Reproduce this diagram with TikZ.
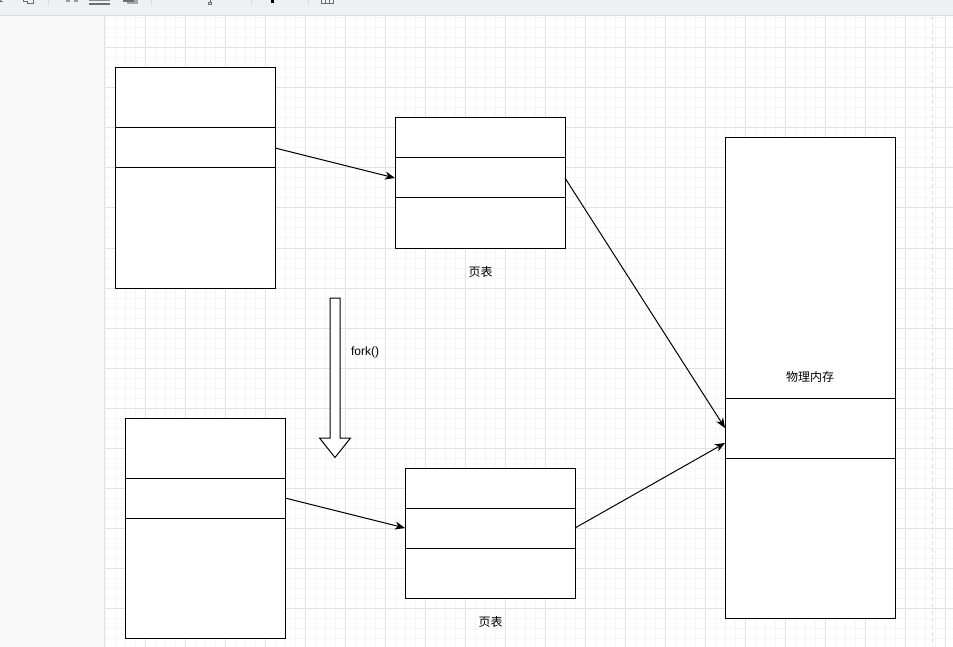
\documentclass[tikz,border=0pt]{standalone}
\usepackage{fontspec}
\setmainfont{Liberation Sans}
\newfontfamily\cjk{Noto Sans CJK SC}
\usetikzlibrary{arrows.meta}
\definecolor{toolbg}{RGB}{238,240,242}
\definecolor{toolline}{RGB}{216,219,223}
\definecolor{panelbg}{RGB}{249,249,249}
\definecolor{gridminor}{RGB}{245,245,245}
\definecolor{gridmajor}{RGB}{226,226,226}
\definecolor{icongray}{RGB}{110,110,110}
\tikzset{
  cell/.style={draw=black, line width=1pt, fill=white, inner sep=0pt, outer sep=0pt, anchor=north west},
  conn/.style={line width=1pt, -{Stealth[length=10pt,width=8pt,inset=3pt]}},
  lbl/.style={inner sep=0pt, font=\fontsize{12}{14}\selectfont},
}
\begin{document}
\begin{tikzpicture}[x=1pt,y=-1pt]
\useasboundingbox (0,0) rectangle (953,647);
% canvas background and grid
\fill[white] (105,15) rectangle (953,647);
\begin{scope}
\clip (105,15) rectangle (953,647);
\foreach \x in {105,115,...,955} \draw[gridminor, line width=1pt] (\x,15) -- (\x,647);
\foreach \y in {18,28,...,648} \draw[gridminor, line width=1pt] (105,\y) -- (953,\y);
\foreach \x in {145,185,...,955} \draw[gridmajor, line width=1pt] (\x,15) -- (\x,647);
\foreach \y in {48,88,...,648} \draw[gridmajor, line width=1pt] (105,\y) -- (953,\y);
\end{scope}
\draw[gridmajor!120, line width=1pt, dash pattern=on 4pt off 3pt] (932,16) -- (932,647);
% left panel
\fill[panelbg] (0,15) rectangle (104,647);
\draw[gridmajor, line width=1pt] (104.5,15) -- (104.5,647);
% toolbar
\fill[toolbg] (0,0) rectangle (953,15);
\draw[toolline, line width=1pt] (0,15.5) -- (953,15.5);
\foreach \x in {48,151,251,308} \draw[toolline, line width=1pt] (\x,0) -- (\x,6);
\draw[icongray, line width=1pt] (0,0) -- (0,2) -- (3,2);
\draw[icongray, line width=1pt] (23,0) -- (23,2) -- (27,2) -- (27,4) -- (33,4) -- (33,0);
\fill[icongray!70] (66,0) rectangle (70,2) (74,0) rectangle (78,2);
\fill[icongray!80] (89,0) rectangle (110,1.5);
\fill[icongray] (89,3) rectangle (110,5);
\fill[icongray!60] (127,0) rectangle (138,4);
\fill[icongray] (123,0) rectangle (134,2.5);
\draw[icongray, line width=0.8pt] (210,0) -- (210,2) (208.5,2) rectangle (211.5,4.5);
\fill[black] (271,0) rectangle (274,3);
\draw[icongray, line width=0.8pt] (321,0) -- (321,3) -- (333,3) -- (333,0) (325,0) -- (325,3) (329,0) -- (329,3);
% box A
\node[cell, minimum width=160pt, minimum height=60pt] (a1) at (115,68) {};
\node[cell, minimum width=160pt, minimum height=40pt] (a2) at (115,128) {};
\node[cell, minimum width=160pt, minimum height=120pt] (a3) at (115,168) {};
% page table B
\node[cell, minimum width=170pt, minimum height=40pt] (b1) at (395,118) {};
\node[cell, minimum width=170pt, minimum height=40pt] (b2) at (395,158) {};
\node[cell, minimum width=170pt, minimum height=50pt] (b3) at (395,198) {};
\node[lbl] (bl) at (480.5,272) {\cjk 页表};
% physical memory C
\node[cell, minimum width=170pt, minimum height=260pt] (c1) at (725,138) {};
\node[cell, minimum width=170pt, minimum height=60pt] (c2) at (725,398) {};
\node[cell, minimum width=170pt, minimum height=160pt] (c3) at (725,458) {};
\node[lbl] (cl) at (810,377) {\cjk 物理内存};
% box D
\node[cell, minimum width=160pt, minimum height=60pt] (d1) at (125,418) {};
\node[cell, minimum width=160pt, minimum height=40pt] (d2) at (125,478) {};
\node[cell, minimum width=160pt, minimum height=120pt] (d3) at (125,518) {};
% page table E
\node[cell, minimum width=170pt, minimum height=40pt] (e1) at (405,468) {};
\node[cell, minimum width=170pt, minimum height=40pt] (e2) at (405,508) {};
\node[cell, minimum width=170pt, minimum height=50pt] (e3) at (405,548) {};
\node[lbl] (el) at (490.5,622) {\cjk 页表};
% fork block arrow
\draw[line width=1pt, fill=white, line join=miter]
  (330,298) -- (340,298) -- (340,438) -- (350.5,438) -- (335,457.5) -- (319.5,438) -- (330,438) -- cycle;
\node[lbl] (fk) at (365,352) {fork()};
% connectors
\draw[conn] (a2.east) -- (b2.west);
\draw[conn] (b2.east) -- (c2.west);
\draw[conn] (d2.east) -- (e2.west);
\draw[conn] (e2.east) -- ([yshift=-15pt]c2.west);
\end{tikzpicture}
\end{document}
